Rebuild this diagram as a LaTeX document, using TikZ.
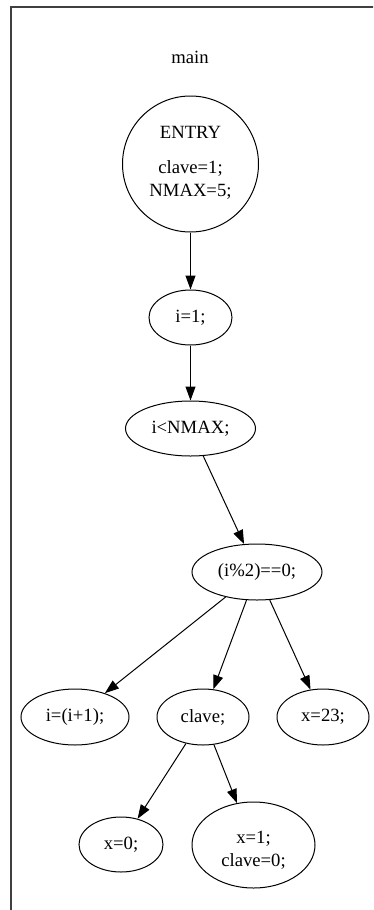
\documentclass[tikz,border=0pt]{standalone}
\usepackage{fontspec}
\setmainfont{Liberation Serif}
\usetikzlibrary{shapes.geometric,arrows.meta}
\begin{document}
\begin{tikzpicture}[x=1pt,y=-1pt,
  lbl/.style={font=\fontsize{18.67}{22}\selectfont, inner sep=0pt},
  blk/.style={draw, line width=1pt, ellipse, inner sep=0pt, font=\fontsize{18.67}{22}\selectfont},
  edge/.style={line width=1pt, -{Triangle[length=14pt,width=10pt]}},
  frame/.style={draw=black!75, line width=1.5pt}]
  \useasboundingbox (0,0) rectangle (373,910);
  \clip (0,0) rectangle (373,910);
  % cluster frame, running off the right and bottom edges
  \coordinate (fr1) at (390,7);
  \coordinate (fr2) at (11,7);
  \coordinate (fr3) at (11,930);
  \draw[frame] (fr1) -- (fr2) -- (fr3);
  \node[lbl] (title) at (190,57) {main};
  % entry block
  \node[draw, line width=1pt, circle, minimum size=136pt, inner sep=0pt] (entry) at (190.5,164) {};
  \node[lbl, anchor=base] (entryA) at (190.5,138) {ENTRY};
  \node[lbl, anchor=base] (entryB) at (190.5,173) {clave=1;};
  \node[lbl, anchor=base] (entryC) at (190.5,196) {NMAX=5;};
  % statement blocks
  \node[blk, minimum width=83pt, minimum height=55pt] (i1) at (190.5,317.5) {i=1;};
  \node[blk, minimum width=130pt, minimum height=55pt] (cond) at (190.5,428.5) {i<NMAX;};
  \node[blk, minimum width=130pt, minimum height=56pt] (mod) at (257,572) {(i\%2)==0;};
  \node[blk, minimum width=108pt, minimum height=56pt] (inc) at (75,717) {i=(i+1);};
  \node[blk, minimum width=92pt, minimum height=56pt] (clave) at (203,717) {clave;};
  \node[blk, minimum width=92pt, minimum height=56pt] (x23) at (323,717) {x=23;};
  \node[blk, minimum width=84pt, minimum height=55pt] (x0) at (121,844.5) {x=0;};
  \node[blk, minimum width=123pt, minimum height=86pt] (x1) at (253.5,845) {};
  \node[lbl, anchor=base] (x1A) at (253.5,843) {x=1;};
  \node[lbl, anchor=base] (x1B) at (253.5,866) {clave=0;};
  % control flow
  \draw[edge] (entry) -- (i1);
  \draw[edge] (i1) -- (cond);
  \draw[edge] (cond) -- (mod);
  \draw[edge] (mod) -- (inc);
  \draw[edge] (mod) -- (clave);
  \draw[edge] (mod) -- (x23);
  \draw[edge] (clave) -- (x0);
  \draw[edge] (clave) -- (x1);
\end{tikzpicture}
\end{document}
